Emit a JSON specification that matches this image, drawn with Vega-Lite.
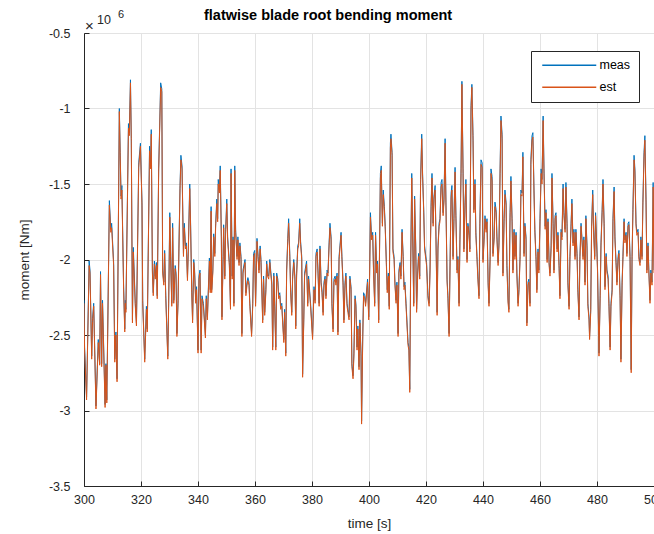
{
"$schema":"https://vega.github.io/schema/vega-lite/v6.json",
"width":570,"height":453,
"autosize":"none",
"padding":{"left":84,"top":33,"right":0,"bottom":48},
"background":"white",
"title":{"text":"flatwise blade root bending moment","font":"Liberation Sans","fontSize":14.5,"fontWeight":"bold","color":"black","anchor":"start","frame":"group","dx":120,"dy":25,"baseline":"alphabetic","offset":0},
"config":{
 "view":{"stroke":"#262626","strokeWidth":1},
 "axis":{"labelFont":"Liberation Sans","titleFont":"Liberation Sans","labelFontSize":12.5,"titleFontSize":13.5,"titleFontWeight":"normal","labelColor":"#262626","titleColor":"#262626","domainColor":"#262626","tickColor":"#262626","gridColor":"#e3e3e3","grid":true,"tickSize":-5,"labelFlush":false},
 "legend":{"title":null,"orient":"none","legendX":447,"legendY":18,"direction":"vertical","symbolType":"M-1,0H17","symbolSize":36,"symbolStrokeWidth":1.5,"labelOffset":48,"labelFont":"Liberation Sans","labelFontSize":12.5,"labelColor":"black","strokeColor":"#262626","fillColor":"white","padding":8,"rowPadding":9}
},
"data":{"values":[
{"t":300,"m":-2.27,"e":-2.29},{"t":300.2,"m":-2.58,"e":-2.6},{"t":300.9,"m":-2.91,"e":-2.93},{"t":301.8,"m":-2.01,"e":-2.04},{"t":302.1,"m":-2.07,"e":-2.09},{"t":302.7,"m":-2.64,"e":-2.66},{"t":303,"m":-2.39,"e":-2.41},{"t":303.4,"m":-2.29,"e":-2.31},{"t":304.2,"m":-2.97,"e":-2.99},{"t":305,"m":-2.53,"e":-2.55},{"t":305.5,"m":-2.69,"e":-2.7},{"t":305.8,"m":-2.08,"e":-2.1},{"t":306.2,"m":-2.69,"e":-2.71},{"t":306.5,"m":-2.27,"e":-2.29},{"t":307.4,"m":-2.96,"e":-2.98},{"t":307.7,"m":-2.69,"e":-2.7},{"t":308,"m":-2.93,"e":-2.95},{"t":308.9,"m":-1.61,"e":-1.64},{"t":309.4,"m":-1.8,"e":-1.82},{"t":309.7,"m":-1.76,"e":-1.79},{"t":310.4,"m":-2.02,"e":-2.04},{"t":310.8,"m":-2.66,"e":-2.68},{"t":311.2,"m":-2.48,"e":-2.5},{"t":311.6,"m":-2.79,"e":-2.81},{"t":312.4,"m":-1.0,"e":-1.02},{"t":312.7,"m":-1.29,"e":-1.31},{"t":313,"m":-1.58,"e":-1.6},{"t":313.3,"m":-1.51,"e":-1.54},{"t":313.9,"m":-2.18,"e":-2.2},{"t":314.3,"m":-2.46,"e":-2.48},{"t":314.5,"m":-2.27,"e":-2.29},{"t":314.7,"m":-2.33,"e":-2.35},{"t":315.6,"m":-1.1,"e":-1.13},{"t":315.9,"m":-1.16,"e":-1.18},{"t":316.3,"m":-0.81,"e":-0.83},{"t":316.6,"m":-1.2,"e":-1.22},{"t":317,"m":-2.4,"e":-2.42},{"t":317.3,"m":-1.92,"e":-1.95},{"t":318,"m":-2.29,"e":-2.31},{"t":318.4,"m":-2.42,"e":-2.44},{"t":319.2,"m":-1.36,"e":-1.39},{"t":319.8,"m":-1.23,"e":-1.25},
{"t":320.35,"m":-1.62,"e":-1.64},{"t":320.6,"m":-2.27,"e":-2.29},{"t":321.3,"m":-2.66,"e":-2.68},{"t":321.9,"m":-2.31,"e":-2.33},{"t":322.2,"m":-2.46,"e":-2.48},{"t":323,"m":-1.25,"e":-1.28},{"t":323.4,"m":-1.38,"e":-1.4},{"t":323.6,"m":-1.14,"e":-1.17},{"t":324,"m":-2.07,"e":-2.09},{"t":324.3,"m":-2.22,"e":-2.24},{"t":324.7,"m":-2.01,"e":-2.03},{"t":325,"m":-2.11,"e":-2.13},{"t":325.4,"m":-2.02,"e":-2.04},{"t":325.7,"m":-2.24,"e":-2.26},{"t":326.2,"m":-1.4,"e":-1.42},{"t":326.9,"m":-0.83,"e":-0.86},{"t":327.3,"m":-0.87,"e":-0.89},{"t":327.6,"m":-2.07,"e":-2.09},{"t":328,"m":-2.15,"e":-2.17},{"t":328.3,"m":-1.94,"e":-1.96},{"t":328.7,"m":-2.24,"e":-2.26},{"t":329.4,"m":-2.64,"e":-2.66},{"t":329.7,"m":-2.29,"e":-2.31},{"t":330.1,"m":-1.69,"e":-1.72},{"t":330.4,"m":-1.98,"e":-2.0},{"t":330.8,"m":-2.29,"e":-2.31},{"t":331.1,"m":-1.76,"e":-1.79},{"t":331.5,"m":-2.27,"e":-2.29},{"t":332,"m":-2.04,"e":-2.06},{"t":332.3,"m":-2.09,"e":-2.11},{"t":332.6,"m":-2.49,"e":-2.51},{"t":333,"m":-2.27,"e":-2.29},{"t":333.3,"m":-1.93,"e":-1.95},{"t":333.7,"m":-1.51,"e":-1.53},{"t":334,"m":-1.31,"e":-1.34},{"t":334.4,"m":-1.38,"e":-1.4},{"t":334.9,"m":-1.96,"e":-1.98},{"t":335.2,"m":-1.76,"e":-1.79},{"t":335.6,"m":-1.91,"e":-1.93},{"t":335.9,"m":-1.89,"e":-1.91},{"t":336.3,"m":-2.12,"e":-2.14},{"t":336.6,"m":-1.93,"e":-1.95},{"t":337.1,"m":-1.5,"e":-1.53},{"t":337.4,"m":-1.76,"e":-1.78},{"t":337.8,"m":-2.2,"e":-2.22},{"t":338.1,"m":-2.4,"e":-2.42},{"t":338.5,"m":-2.0,"e":-2.02},{"t":338.8,"m":-2.07,"e":-2.09},{"t":339.2,"m":-2.27,"e":-2.29},{"t":339.5,"m":-2.18,"e":-2.2},{"t":340,"m":-2.6,"e":-2.62},
{"t":340.35,"m":-2.11,"e":-2.13},{"t":340.7,"m":-2.07,"e":-2.09},{"t":341.1,"m":-2.6,"e":-2.62},{"t":341.4,"m":-2.24,"e":-2.26},{"t":341.9,"m":-2.29,"e":-2.31},{"t":342.6,"m":-2.5,"e":-2.52},{"t":342.9,"m":-2.24,"e":-2.26},{"t":343.3,"m":-2.38,"e":-2.4},{"t":344,"m":-1.99,"e":-2.01},{"t":344.3,"m":-2.2,"e":-2.22},{"t":344.6,"m":-1.65,"e":-1.68},{"t":344.8,"m":-2.2,"e":-2.22},{"t":345.2,"m":-2.07,"e":-2.09},{"t":345.5,"m":-1.83,"e":-1.85},{"t":345.9,"m":-1.96,"e":-1.98},{"t":346.2,"m":-1.76,"e":-1.78},{"t":346.6,"m":-1.6,"e":-1.63},{"t":346.9,"m":-1.73,"e":-1.75},{"t":347.1,"m":-1.47,"e":-1.5},{"t":347.5,"m":-1.54,"e":-1.56},{"t":347.8,"m":-1.38,"e":-1.41},{"t":348.2,"m":-1.85,"e":-1.87},{"t":348.4,"m":-2.38,"e":-2.4},{"t":348.8,"m":-1.98,"e":-2.0},{"t":349,"m":-1.77,"e":-1.79},{"t":349.4,"m":-2.11,"e":-2.13},{"t":349.7,"m":-1.8,"e":-1.82},{"t":350.1,"m":-1.6,"e":-1.63},{"t":350.4,"m":-1.85,"e":-1.87},{"t":351,"m":-2.02,"e":-2.04},{"t":351.4,"m":-2.31,"e":-2.33},{"t":351.6,"m":-1.4,"e":-1.43},{"t":352,"m":-2.11,"e":-2.13},{"t":352.3,"m":-1.85,"e":-1.87},{"t":352.6,"m":-2.29,"e":-2.31},{"t":352.9,"m":-1.38,"e":-1.41},{"t":353.2,"m":-1.8,"e":-1.82},{"t":353.7,"m":-1.98,"e":-2.0},{"t":354,"m":-1.85,"e":-1.87},{"t":354.4,"m":-2.02,"e":-2.04},{"t":354.7,"m":-1.89,"e":-1.91},{"t":355.1,"m":-1.98,"e":-2.0},{"t":355.4,"m":-2.49,"e":-2.51},{"t":355.8,"m":-2.07,"e":-2.09},{"t":356.5,"m":-2.0,"e":-2.02},{"t":356.8,"m":-2.22,"e":-2.24},{"t":357.2,"m":-2.15,"e":-2.17},{"t":357.5,"m":-2.12,"e":-2.14},{"t":357.9,"m":-2.15,"e":-2.17},{"t":358.2,"m":-2.29,"e":-2.31},{"t":358.8,"m":-2.49,"e":-2.51},{"t":359.2,"m":-2.29,"e":-2.31},{"t":359.5,"m":-1.96,"e":-1.98},{"t":359.9,"m":-1.94,"e":-1.96},{"t":360.2,"m":-2.29,"e":-2.31},
{"t":360.7,"m":-1.86,"e":-1.88},{"t":361.1,"m":-1.98,"e":-2.0},{"t":361.4,"m":-2.07,"e":-2.09},{"t":361.8,"m":-1.91,"e":-1.93},{"t":362.1,"m":-2.0,"e":-2.02},{"t":362.7,"m":-2.4,"e":-2.42},{"t":363,"m":-2.11,"e":-2.13},{"t":363.4,"m":-2.35,"e":-2.37},{"t":363.8,"m":-2.2,"e":-2.22},{"t":364.1,"m":-2.01,"e":-2.03},{"t":364.4,"m":-2.09,"e":-2.11},{"t":364.8,"m":-2.11,"e":-2.13},{"t":365.2,"m":-2.0,"e":-2.02},{"t":365.5,"m":-2.07,"e":-2.09},{"t":365.9,"m":-2.15,"e":-2.17},{"t":366.2,"m":-2.58,"e":-2.6},{"t":366.6,"m":-2.09,"e":-2.11},{"t":366.9,"m":-2.29,"e":-2.31},{"t":367.3,"m":-2.58,"e":-2.6},{"t":367.6,"m":-2.09,"e":-2.11},{"t":368,"m":-2.13,"e":-2.15},{"t":368.3,"m":-2.24,"e":-2.26},{"t":368.7,"m":-2.22,"e":-2.24},{"t":369,"m":-2.31,"e":-2.33},{"t":369.4,"m":-2.29,"e":-2.31},{"t":369.7,"m":-2.4,"e":-2.42},{"t":370.1,"m":-2.53,"e":-2.55},{"t":370.4,"m":-2.33,"e":-2.35},{"t":370.8,"m":-2.62,"e":-2.64},{"t":371.1,"m":-2.07,"e":-2.09},{"t":371.5,"m":-1.86,"e":-1.88},{"t":371.8,"m":-1.73,"e":-1.76},{"t":372.2,"m":-1.96,"e":-1.98},{"t":372.5,"m":-2.2,"e":-2.22},{"t":372.9,"m":-2.35,"e":-2.37},{"t":373.2,"m":-2.11,"e":-2.13},{"t":373.6,"m":-2.0,"e":-2.02},{"t":374,"m":-2.11,"e":-2.13},{"t":374.3,"m":-2.44,"e":-2.46},{"t":374.6,"m":-2.09,"e":-2.11},{"t":375,"m":-1.91,"e":-1.93},{"t":375.3,"m":-1.89,"e":-1.91},{"t":375.7,"m":-1.73,"e":-1.76},{"t":376,"m":-1.88,"e":-1.9},{"t":376.4,"m":-1.98,"e":-2.0},{"t":376.7,"m":-2.76,"e":-2.78},{"t":377.1,"m":-2.4,"e":-2.42},{"t":377.4,"m":-2.09,"e":-2.11},{"t":378.1,"m":-2.01,"e":-2.03},{"t":378.5,"m":-2.29,"e":-2.31},{"t":378.8,"m":-2.11,"e":-2.13},{"t":379.5,"m":-2.29,"e":-2.31},{"t":380.2,"m":-2.51,"e":-2.53},
{"t":380.7,"m":-2.18,"e":-2.2},{"t":381.1,"m":-2.27,"e":-2.29},{"t":381.4,"m":-1.96,"e":-1.98},{"t":381.8,"m":-1.93,"e":-1.95},{"t":382.1,"m":-2.07,"e":-2.09},{"t":382.5,"m":-2.29,"e":-2.31},{"t":382.8,"m":-1.91,"e":-1.93},{"t":383.2,"m":-2.15,"e":-2.17},{"t":383.5,"m":-2.2,"e":-2.22},{"t":383.9,"m":-2.35,"e":-2.37},{"t":384.2,"m":-2.15,"e":-2.17},{"t":384.6,"m":-2.11,"e":-2.13},{"t":384.9,"m":-2.24,"e":-2.26},{"t":385.3,"m":-2.07,"e":-2.09},{"t":385.6,"m":-2.09,"e":-2.11},{"t":386,"m":-1.89,"e":-1.91},{"t":386.3,"m":-1.76,"e":-1.79},{"t":386.7,"m":-1.85,"e":-1.87},{"t":387,"m":-2.29,"e":-2.31},{"t":387.4,"m":-2.46,"e":-2.48},{"t":387.7,"m":-2.13,"e":-2.15},{"t":388.1,"m":-2.11,"e":-2.13},{"t":388.4,"m":-2.15,"e":-2.17},{"t":388.8,"m":-2.09,"e":-2.11},{"t":389.1,"m":-2.48,"e":-2.5},{"t":389.5,"m":-1.98,"e":-2.0},{"t":389.8,"m":-1.91,"e":-1.93},{"t":390.2,"m":-1.82,"e":-1.84},{"t":390.5,"m":-1.98,"e":-2.0},{"t":390.9,"m":-2.15,"e":-2.17},{"t":391.2,"m":-2.4,"e":-2.42},{"t":391.6,"m":-2.15,"e":-2.17},{"t":391.9,"m":-2.09,"e":-2.11},{"t":392.3,"m":-2.29,"e":-2.31},{"t":392.6,"m":-2.33,"e":-2.35},{"t":393,"m":-2.38,"e":-2.4},{"t":393.3,"m":-2.11,"e":-2.13},{"t":393.7,"m":-2.18,"e":-2.2},{"t":394,"m":-2.69,"e":-2.71},{"t":394.4,"m":-2.77,"e":-2.79},{"t":394.7,"m":-2.62,"e":-2.64},{"t":395.1,"m":-2.24,"e":-2.26},{"t":395.4,"m":-2.29,"e":-2.31},{"t":395.8,"m":-2.58,"e":-2.6},{"t":396.1,"m":-2.44,"e":-2.46},{"t":396.5,"m":-2.71,"e":-2.73},{"t":396.8,"m":-2.4,"e":-2.42},{"t":397.2,"m":-2.62,"e":-2.64},{"t":397.4,"m":-3.07,"e":-3.09},{"t":397.8,"m":-2.51,"e":-2.53},{"t":398.1,"m":-2.22,"e":-2.24},{"t":398.5,"m":-2.24,"e":-2.26},{"t":398.8,"m":-2.29,"e":-2.31},{"t":399.5,"m":-2.13,"e":-2.15},{"t":399.9,"m":-2.38,"e":-2.4},{"t":400.2,"m":-2.11,"e":-2.13},{"t":400.5,"m":-1.69,"e":-1.72},
{"t":400.9,"m":-1.85,"e":-1.87},{"t":401.3,"m":-1.82,"e":-1.84},{"t":401.6,"m":-2.07,"e":-2.09},{"t":402,"m":-2.29,"e":-2.31},{"t":402.3,"m":-1.82,"e":-1.84},{"t":402.7,"m":-2.07,"e":-2.09},{"t":403,"m":-2.01,"e":-2.03},{"t":403.4,"m":-2.4,"e":-2.42},{"t":403.7,"m":-1.93,"e":-1.95},{"t":404,"m":-1.43,"e":-1.46},{"t":404.3,"m":-1.38,"e":-1.41},{"t":404.7,"m":-1.76,"e":-1.78},{"t":405,"m":-1.54,"e":-1.57},{"t":405.4,"m":-1.65,"e":-1.67},{"t":405.7,"m":-1.78,"e":-1.8},{"t":406.1,"m":-2.02,"e":-2.04},{"t":406.4,"m":-2.2,"e":-2.22},{"t":406.8,"m":-2.09,"e":-2.11},{"t":407.1,"m":-2.31,"e":-2.33},{"t":407.5,"m":-1.23,"e":-1.26},{"t":407.7,"m":-1.17,"e":-1.2},{"t":408.1,"m":-1.29,"e":-1.31},{"t":408.4,"m":-1.93,"e":-1.95},{"t":408.8,"m":-1.98,"e":-2.0},{"t":409.1,"m":-2.15,"e":-2.17},{"t":409.5,"m":-2.27,"e":-2.29},{"t":409.8,"m":-2.15,"e":-2.17},{"t":410.2,"m":-2.49,"e":-2.51},{"t":410.5,"m":-2.07,"e":-2.09},{"t":410.9,"m":-2.02,"e":-2.04},{"t":411.2,"m":-2.11,"e":-2.13},{"t":411.6,"m":-1.8,"e":-1.82},{"t":412,"m":-1.98,"e":-2.0},{"t":412.3,"m":-2.18,"e":-2.2},{"t":412.6,"m":-2.15,"e":-2.17},{"t":413,"m":-2.29,"e":-2.31},{"t":413.3,"m":-2.4,"e":-2.42},{"t":413.7,"m":-2.55,"e":-2.57},{"t":414,"m":-2.58,"e":-2.6},{"t":414.3,"m":-2.86,"e":-2.88},{"t":414.6,"m":-2.07,"e":-2.09},{"t":415,"m":-1.43,"e":-1.46},{"t":415.3,"m":-1.8,"e":-1.82},{"t":415.7,"m":-2.29,"e":-2.31},{"t":416,"m":-1.58,"e":-1.6},{"t":416.4,"m":-1.91,"e":-1.93},{"t":416.7,"m":-2.33,"e":-2.35},{"t":417.1,"m":-2.07,"e":-2.09},{"t":417.4,"m":-1.96,"e":-1.98},{"t":417.8,"m":-2.11,"e":-2.13},{"t":418.1,"m":-1.47,"e":-1.5},{"t":418.5,"m":-1.17,"e":-1.2},{"t":418.8,"m":-1.43,"e":-1.45},{"t":419.2,"m":-1.67,"e":-1.69},{"t":419.5,"m":-1.91,"e":-1.93},{"t":420.2,"m":-2.02,"e":-2.04},
{"t":420.7,"m":-2.24,"e":-2.26},{"t":421.1,"m":-2.29,"e":-2.31},{"t":421.4,"m":-2.07,"e":-2.09},{"t":421.8,"m":-1.62,"e":-1.65},{"t":422.1,"m":-1.43,"e":-1.46},{"t":422.5,"m":-1.76,"e":-1.78},{"t":422.8,"m":-1.58,"e":-1.6},{"t":423.2,"m":-1.51,"e":-1.54},{"t":423.5,"m":-1.85,"e":-1.87},{"t":423.9,"m":-2.35,"e":-2.37},{"t":424.2,"m":-1.91,"e":-1.93},{"t":424.6,"m":-1.76,"e":-1.78},{"t":424.9,"m":-1.73,"e":-1.75},{"t":425.3,"m":-1.49,"e":-1.52},{"t":425.6,"m":-1.47,"e":-1.5},{"t":426,"m":-1.69,"e":-1.71},{"t":426.3,"m":-1.6,"e":-1.62},{"t":426.7,"m":-1.2,"e":-1.23},{"t":427,"m":-1.62,"e":-1.64},{"t":427.4,"m":-2.13,"e":-2.15},{"t":427.7,"m":-2.24,"e":-2.26},{"t":428.1,"m":-2.49,"e":-2.51},{"t":428.4,"m":-2.07,"e":-2.09},{"t":428.8,"m":-1.56,"e":-1.59},{"t":429.1,"m":-1.51,"e":-1.54},{"t":429.5,"m":-1.98,"e":-2.0},{"t":429.8,"m":-1.73,"e":-1.75},{"t":430.2,"m":-1.39,"e":-1.42},{"t":430.5,"m":-1.71,"e":-1.73},{"t":430.9,"m":-2.07,"e":-2.09},{"t":431.2,"m":-1.98,"e":-2.0},{"t":431.6,"m":-2.29,"e":-2.31},{"t":431.9,"m":-1.87,"e":-1.89},{"t":432.3,"m":-1.4,"e":-1.43},{"t":432.6,"m":-0.82,"e":-0.84},{"t":433,"m":-1.4,"e":-1.43},{"t":433.3,"m":-1.93,"e":-1.95},{"t":433.7,"m":-1.62,"e":-1.64},{"t":434,"m":-1.47,"e":-1.5},{"t":434.4,"m":-2.0,"e":-2.02},{"t":434.7,"m":-1.76,"e":-1.78},{"t":435.1,"m":-1.82,"e":-1.84},{"t":435.4,"m":-1.93,"e":-1.95},{"t":435.8,"m":-0.98,"e":-1.01},{"t":436.1,"m":-0.84,"e":-0.86},{"t":436.5,"m":-1.18,"e":-1.21},{"t":436.8,"m":-1.67,"e":-1.69},{"t":437.2,"m":-1.47,"e":-1.5},{"t":437.5,"m":-1.82,"e":-1.84},{"t":437.9,"m":-1.98,"e":-2.0},{"t":438.2,"m":-2.11,"e":-2.13},{"t":438.6,"m":-2.24,"e":-2.26},{"t":438.9,"m":-1.76,"e":-1.78},{"t":439.3,"m":-1.34,"e":-1.37},{"t":439.7,"m":-1.36,"e":-1.39},{"t":440,"m":-2.0,"e":-2.02},{"t":440.4,"m":-1.85,"e":-1.87},
{"t":440.7,"m":-1.71,"e":-1.73},{"t":441.1,"m":-1.8,"e":-1.82},{"t":441.4,"m":-1.73,"e":-1.75},{"t":441.8,"m":-2.15,"e":-2.17},{"t":442.1,"m":-2.29,"e":-2.31},{"t":442.5,"m":-1.98,"e":-2.0},{"t":442.8,"m":-1.4,"e":-1.43},{"t":443.2,"m":-1.45,"e":-1.48},{"t":443.5,"m":-1.96,"e":-1.98},{"t":443.9,"m":-1.85,"e":-1.87},{"t":444.2,"m":-1.62,"e":-1.65},{"t":444.6,"m":-1.67,"e":-1.69},{"t":444.9,"m":-1.85,"e":-1.87},{"t":445.3,"m":-2.02,"e":-2.04},{"t":445.6,"m":-1.89,"e":-1.91},{"t":446,"m":-1.4,"e":-1.43},{"t":446.3,"m":-1.05,"e":-1.08},{"t":446.7,"m":-1.17,"e":-1.2},{"t":447,"m":-2.09,"e":-2.11},{"t":447.4,"m":-1.73,"e":-1.75},{"t":447.7,"m":-1.54,"e":-1.57},{"t":448.1,"m":-1.62,"e":-1.64},{"t":448.4,"m":-2.04,"e":-2.06},{"t":448.8,"m":-2.27,"e":-2.29},{"t":449.1,"m":-2.33,"e":-2.35},{"t":449.5,"m":-1.69,"e":-1.72},{"t":449.8,"m":-1.45,"e":-1.48},{"t":450.2,"m":-1.73,"e":-1.75},{"t":450.5,"m":-2.07,"e":-2.09},{"t":450.9,"m":-1.8,"e":-1.82},{"t":451.2,"m":-1.98,"e":-2.0},{"t":451.6,"m":-1.82,"e":-1.84},{"t":451.9,"m":-2.09,"e":-2.11},{"t":452.3,"m":-2.29,"e":-2.31},{"t":452.6,"m":-2.2,"e":-2.22},{"t":453,"m":-1.98,"e":-2.0},{"t":453.3,"m":-1.54,"e":-1.57},{"t":453.7,"m":-1.56,"e":-1.58},{"t":454,"m":-1.29,"e":-1.32},{"t":454.4,"m":-1.96,"e":-1.98},{"t":454.7,"m":-1.76,"e":-1.78},{"t":455.1,"m":-1.85,"e":-1.87},{"t":455.4,"m":-2.42,"e":-2.44},{"t":455.8,"m":-2.15,"e":-2.17},{"t":456.1,"m":-2.13,"e":-2.15},{"t":456.5,"m":-2.29,"e":-2.31},{"t":456.8,"m":-1.34,"e":-1.37},{"t":457.2,"m":-1.18,"e":-1.21},{"t":457.5,"m":-1.16,"e":-1.19},{"t":457.9,"m":-1.54,"e":-1.56},{"t":458.2,"m":-1.8,"e":-1.82},{"t":458.6,"m":-1.98,"e":-2.0},{"t":458.9,"m":-2.2,"e":-2.22},{"t":459.3,"m":-1.93,"e":-1.95},{"t":459.6,"m":-2.07,"e":-2.09},{"t":460,"m":-1.73,"e":-1.75},{"t":460.4,"m":-1.4,"e":-1.43},
{"t":460.7,"m":-1.47,"e":-1.5},{"t":461.1,"m":-1.05,"e":-1.08},{"t":461.4,"m":-1.4,"e":-1.43},{"t":461.8,"m":-1.78,"e":-1.8},{"t":462.1,"m":-1.67,"e":-1.69},{"t":462.5,"m":-2.0,"e":-2.02},{"t":462.8,"m":-1.73,"e":-1.75},{"t":463.2,"m":-2.02,"e":-2.04},{"t":463.5,"m":-2.09,"e":-2.11},{"t":463.9,"m":-1.91,"e":-1.93},{"t":464.2,"m":-1.43,"e":-1.46},{"t":464.6,"m":-1.76,"e":-1.78},{"t":464.9,"m":-2.07,"e":-2.09},{"t":465.3,"m":-1.71,"e":-1.73},{"t":465.6,"m":-1.69,"e":-1.71},{"t":466,"m":-1.93,"e":-1.95},{"t":466.3,"m":-1.82,"e":-1.84},{"t":466.7,"m":-2.04,"e":-2.06},{"t":467,"m":-2.24,"e":-2.26},{"t":467.4,"m":-1.8,"e":-1.82},{"t":467.7,"m":-1.85,"e":-1.87},{"t":468.1,"m":-1.5,"e":-1.53},{"t":468.4,"m":-1.69,"e":-1.71},{"t":468.8,"m":-1.8,"e":-1.82},{"t":469.1,"m":-1.49,"e":-1.52},{"t":469.5,"m":-1.76,"e":-1.78},{"t":469.8,"m":-2.15,"e":-2.17},{"t":470.2,"m":-2.31,"e":-2.33},{"t":470.5,"m":-1.98,"e":-2.0},{"t":470.9,"m":-1.76,"e":-1.78},{"t":471.2,"m":-1.6,"e":-1.63},{"t":471.6,"m":-1.89,"e":-1.91},{"t":471.9,"m":-1.8,"e":-1.82},{"t":472.3,"m":-1.98,"e":-2.0},{"t":472.6,"m":-1.8,"e":-1.82},{"t":473,"m":-1.96,"e":-1.98},{"t":473.3,"m":-2.2,"e":-2.22},{"t":473.7,"m":-2.38,"e":-2.4},{"t":474,"m":-1.98,"e":-2.0},{"t":474.4,"m":-1.76,"e":-1.78},{"t":474.7,"m":-1.85,"e":-1.87},{"t":475.1,"m":-1.98,"e":-2.0},{"t":475.4,"m":-1.85,"e":-1.87},{"t":475.8,"m":-2.15,"e":-2.17},{"t":476.1,"m":-1.71,"e":-1.73},{"t":476.5,"m":-1.91,"e":-1.93},{"t":476.8,"m":-2.29,"e":-2.31},{"t":477.2,"m":-2.38,"e":-2.4},{"t":477.4,"m":-2.51,"e":-2.53},{"t":477.8,"m":-2.33,"e":-2.35},{"t":478.1,"m":-1.78,"e":-1.8},{"t":478.5,"m":-1.54,"e":-1.57},{"t":478.8,"m":-1.8,"e":-1.82},{"t":479.2,"m":-1.98,"e":-2.0},{"t":479.5,"m":-1.69,"e":-1.71},{"t":479.9,"m":-1.89,"e":-1.91},{"t":480.2,"m":-2.07,"e":-2.09},
{"t":480.7,"m":-2.62,"e":-2.64},{"t":481.1,"m":-2.24,"e":-2.26},{"t":481.4,"m":-1.89,"e":-1.91},{"t":481.8,"m":-1.67,"e":-1.69},{"t":482.1,"m":-1.47,"e":-1.5},{"t":482.5,"m":-1.76,"e":-1.78},{"t":482.8,"m":-2.18,"e":-2.2},{"t":483.2,"m":-1.96,"e":-1.98},{"t":483.5,"m":-2.07,"e":-2.09},{"t":483.9,"m":-2.11,"e":-2.13},{"t":484.2,"m":-2.29,"e":-2.31},{"t":484.6,"m":-2.58,"e":-2.6},{"t":484.9,"m":-2.29,"e":-2.31},{"t":485.3,"m":-2.2,"e":-2.22},{"t":485.6,"m":-1.73,"e":-1.75},{"t":486,"m":-1.52,"e":-1.55},{"t":486.3,"m":-1.85,"e":-1.87},{"t":486.7,"m":-2.02,"e":-2.04},{"t":487,"m":-2.15,"e":-2.17},{"t":487.4,"m":-1.98,"e":-2.0},{"t":487.7,"m":-1.94,"e":-1.96},{"t":488.1,"m":-2.24,"e":-2.26},{"t":488.4,"m":-2.66,"e":-2.68},{"t":488.8,"m":-2.15,"e":-2.17},{"t":489.1,"m":-1.98,"e":-2.0},{"t":489.5,"m":-1.73,"e":-1.75},{"t":489.8,"m":-1.87,"e":-1.89},{"t":490.2,"m":-1.82,"e":-1.84},{"t":490.5,"m":-1.96,"e":-1.98},{"t":490.9,"m":-1.76,"e":-1.78},{"t":491.2,"m":-1.75,"e":-1.77},{"t":491.6,"m":-1.98,"e":-2.0},{"t":492,"m":-2.73,"e":-2.75},{"t":492.3,"m":-1.98,"e":-2.0},{"t":492.6,"m":-1.67,"e":-1.69},{"t":493,"m":-1.31,"e":-1.34},{"t":493.3,"m":-1.4,"e":-1.42},{"t":493.7,"m":-1.76,"e":-1.78},{"t":494,"m":-1.82,"e":-1.84},{"t":494.4,"m":-1.8,"e":-1.82},{"t":494.7,"m":-1.98,"e":-2.0},{"t":495.1,"m":-2.02,"e":-2.04},{"t":495.4,"m":-1.85,"e":-1.87},{"t":495.8,"m":-1.98,"e":-2.0},{"t":496.1,"m":-1.62,"e":-1.64},{"t":496.5,"m":-1.29,"e":-1.32},{"t":496.8,"m":-1.18,"e":-1.21},{"t":497.2,"m":-1.6,"e":-1.62},{"t":497.5,"m":-2.07,"e":-2.09},{"t":497.9,"m":-1.89,"e":-1.91},{"t":498.2,"m":-2.07,"e":-2.09},{"t":498.6,"m":-2.27,"e":-2.29},{"t":498.9,"m":-2.07,"e":-2.09},{"t":499.3,"m":-2.15,"e":-2.17},{"t":499.7,"m":-1.49,"e":-1.52},{"t":500,"m":-2.07,"e":-2.09}
]},
"layer":[
 {"mark":{"type":"line","strokeWidth":1,"clip":true},
  "encoding":{
   "x":{"field":"t","type":"quantitative","scale":{"domain":[300,500],"nice":false,"zero":false},
        "axis":{"values":[300,320,340,360,380,400,420,440,460,480,500],"title":"time [s]","labelPadding":12,"titlePadding":11}},
   "y":{"field":"m","type":"quantitative","scale":{"domain":[-3.5,-0.5],"nice":false,"zero":false},
        "axis":{"values":[-3.5,-3,-2.5,-2,-1.5,-1,-0.5],"title":"moment [Nm]","labelPadding":19,"titlePadding":17,"labelExpr":"'-' + toString(abs(datum.value))"}},
   "color":{"datum":"meas","type":"nominal","scale":{"domain":["meas","est"],"range":["#0072BD","#D95319"]}}
  }},
 {"mark":{"type":"line","strokeWidth":1,"clip":true},
  "encoding":{
   "x":{"field":"t","type":"quantitative"},
   "y":{"field":"e","type":"quantitative"},
   "color":{"datum":"est","type":"nominal"}
  }},
 {"data":{"values":[{"s":"×"}]},
  "mark":{"type":"text","align":"left","baseline":"alphabetic","dx":1,"dy":-2,"fontSize":15,"font":"Liberation Sans","color":"#262626"},
  "encoding":{"x":{"datum":300,"type":"quantitative"},"y":{"datum":-0.5,"type":"quantitative"},"text":{"field":"s"}}},
 {"data":{"values":[{"s":"10"}]},
  "mark":{"type":"text","align":"left","baseline":"alphabetic","dx":13,"dy":-9,"fontSize":12.5,"font":"Liberation Sans","color":"#262626"},
  "encoding":{"x":{"datum":300,"type":"quantitative"},"y":{"datum":-0.5,"type":"quantitative"},"text":{"field":"s"}}},
 {"data":{"values":[{"s":"6"}]},
  "mark":{"type":"text","align":"left","baseline":"alphabetic","dx":34,"dy":-15,"fontSize":11,"font":"Liberation Sans","color":"#262626"},
  "encoding":{"x":{"datum":300,"type":"quantitative"},"y":{"datum":-0.5,"type":"quantitative"},"text":{"field":"s"}}}
]
}
